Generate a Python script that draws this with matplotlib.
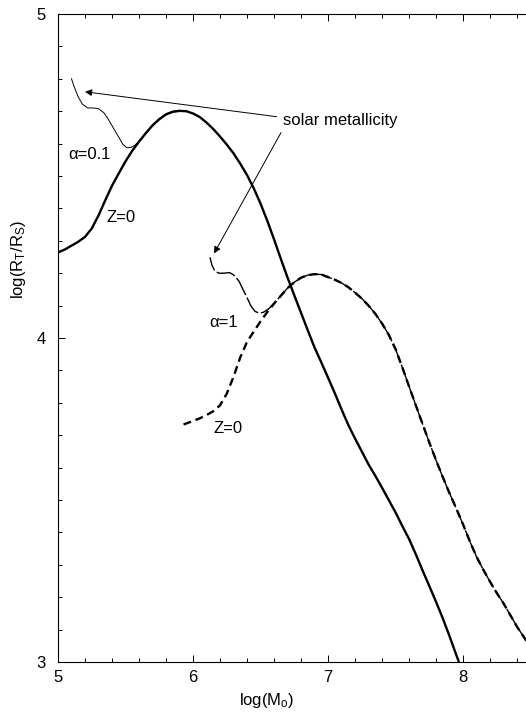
import matplotlib
matplotlib.use("Agg")
import matplotlib.pyplot as plt
from matplotlib.ticker import MultipleLocator

plt.rcParams['font.family'] = ['Liberation Sans', 'DejaVu Sans']
plt.rcParams['mathtext.fontset'] = 'custom'
plt.rcParams['mathtext.rm'] = 'Liberation Sans'
plt.rcParams['mathtext.it'] = 'Liberation Sans:italic'

# Z=0, alpha=0.1 (thick solid)
z0_a01_x = [5.00, 5.05, 5.10, 5.15, 5.20, 5.25, 5.30, 5.35, 5.40, 5.45, 5.50, 5.55,
            5.60, 5.65, 5.70, 5.75, 5.80, 5.85, 5.90, 5.95, 6.00, 6.05, 6.10, 6.15,
            6.20, 6.25, 6.30, 6.35, 6.40, 6.45, 6.50, 6.55, 6.60, 6.65, 6.70, 6.75,
            6.80, 6.85, 6.90, 6.95, 7.00, 7.05, 7.10, 7.15, 7.20, 7.25, 7.30, 7.35,
            7.40, 7.45, 7.50, 7.55, 7.60, 7.65, 7.70, 7.75, 7.80, 7.85, 7.90, 7.95, 7.97]
z0_a01_y = [4.264, 4.273, 4.285, 4.297, 4.312, 4.338, 4.378, 4.425, 4.470, 4.508, 4.545, 4.578,
            4.606, 4.632, 4.656, 4.675, 4.690, 4.698, 4.701, 4.700, 4.693, 4.682, 4.665, 4.645,
            4.622, 4.597, 4.570, 4.538, 4.503, 4.462, 4.415, 4.362, 4.305, 4.245, 4.187, 4.132,
            4.078, 4.024, 3.971, 3.925, 3.878, 3.830, 3.780, 3.732, 3.690, 3.650, 3.610, 3.575,
            3.538, 3.500, 3.462, 3.420, 3.380, 3.333, 3.283, 3.235, 3.186, 3.135, 3.080, 3.022, 3.000]

# Z=0, alpha=1 (thick dashed)
z0_a1_x = [5.93, 6.00, 6.05, 6.10, 6.15, 6.20, 6.25, 6.30, 6.35, 6.40, 6.45, 6.50,
           6.55, 6.60, 6.65, 6.70, 6.75, 6.80, 6.85, 6.90, 6.95, 7.00, 7.05, 7.10,
           7.15, 7.20, 7.25, 7.30, 7.35, 7.40, 7.45, 7.50, 7.55, 7.60, 7.65, 7.70,
           7.75, 7.80, 7.85, 7.90, 7.95, 8.00, 8.05, 8.10, 8.15, 8.20, 8.25, 8.30,
           8.35, 8.40, 8.47]
z0_a1_y = [3.733, 3.744, 3.752, 3.762, 3.774, 3.792, 3.828, 3.880, 3.940, 3.988, 4.020, 4.051,
           4.080, 4.106, 4.130, 4.154, 4.172, 4.186, 4.194, 4.197, 4.196, 4.188, 4.180, 4.170,
           4.157, 4.140, 4.122, 4.100, 4.075, 4.045, 4.010, 3.966, 3.910, 3.851, 3.793, 3.735,
           3.678, 3.623, 3.571, 3.521, 3.474, 3.425, 3.373, 3.325, 3.285, 3.248, 3.213, 3.181,
           3.145, 3.109, 3.065]

# solar metallicity, alpha=0.1 (thin solid) - merges with Z=0 near the peak
sol_a01_x = [5.10, 5.12, 5.15, 5.18, 5.22, 5.26, 5.30, 5.34, 5.37, 5.41, 5.45, 5.48,
             5.51, 5.54, 5.57, 5.61, 5.65, 5.70, 5.75, 5.80, 5.85, 5.90]
sol_a01_y = [4.800, 4.775, 4.744, 4.722, 4.710, 4.710, 4.708, 4.695, 4.677, 4.648, 4.620, 4.598,
             4.587, 4.588, 4.595, 4.612, 4.633, 4.658, 4.677, 4.692, 4.700, 4.703]

# solar metallicity, alpha=1 (thin dashed) - follows the Z=0 curve after the merge
sol_a1_x = [6.126, 6.14, 6.16, 6.19, 6.23, 6.27, 6.30, 6.34, 6.37, 6.40, 6.43, 6.46,
            6.49, 6.52, 6.56, 6.60]
sol_a1_y = [4.249, 4.225, 4.208, 4.200, 4.200, 4.202, 4.195, 4.176, 4.150, 4.125, 4.098, 4.082,
            4.077, 4.079, 4.090, 4.107]
sol_a1_x = sol_a1_x + [x for x in z0_a1_x if x > 6.62]
sol_a1_y = sol_a1_y + [y for x, y in zip(z0_a1_x, z0_a1_y) if x > 6.62]

fig = plt.figure(figsize=(5.26, 7.13), dpi=100)
ax = fig.add_axes([58 / 526, 51 / 713, 472.5 / 526, 648 / 713])

ax.plot(z0_a01_x, z0_a01_y, color='black', lw=1.7, solid_capstyle='butt')
ax.plot(sol_a01_x, sol_a01_y, color='black', lw=0.7)
ax.plot(z0_a1_x, z0_a1_y, color='black', lw=1.7, linestyle=(0, (3.4, 2.0)))
ax.plot(sol_a1_x, sol_a1_y, color='black', lw=1.0, linestyle=(4, (14, 2)))

ax.set_xlim(5, 8.5)
ax.set_ylim(3, 5)
ax.xaxis.set_major_locator(MultipleLocator(1))
ax.xaxis.set_minor_locator(MultipleLocator(0.2))
ax.yaxis.set_major_locator(MultipleLocator(1))
ax.yaxis.set_minor_locator(MultipleLocator(0.1))
ax.tick_params(which='both', direction='in', top=True, right=False, width=0.7)
ax.tick_params(which='major', length=5, labelsize=12)
ax.tick_params(which='minor', length=3)
ax.tick_params(axis='x', pad=6)
ax.tick_params(axis='y', pad=9)
for s in ax.spines.values():
    s.set_linewidth(0.8)
ax.spines['right'].set_visible(False)

fig.text(267 / 526, 1 - 700 / 713, r'log(M$_\mathregular{o}$)', ha='center', va='center', fontsize=12)
fig.text(18 / 526, 1 - 260 / 713, r'log(R$_\mathregular{T}$/R$_\mathregular{S}$)', ha='center', va='center',
         rotation=90, fontsize=12)

# labels
ax.text(5.23, 4.567, 'α=0.1', ha='center', va='center', fontsize=12)
ax.text(5.467, 4.372, 'Z=0', ha='center', va='center', fontsize=12)
ax.text(6.23, 4.048, 'α=1', ha='center', va='center', fontsize=12)
ax.text(6.263, 3.722, 'Z=0', ha='center', va='center', fontsize=12)
ax.text(6.667, 4.67, 'solar metallicity', ha='left', va='center', fontsize=12)

arrow = dict(arrowstyle='-|>', color='black', lw=0.7, mutation_scale=10, shrinkA=0, shrinkB=0)
ax.annotate('', xy=(5.2, 4.76), xytext=(6.62, 4.683), arrowprops=arrow)
ax.annotate('', xy=(6.156, 4.261), xytext=(6.652, 4.634), arrowprops=arrow)

fig.savefig('out.png', dpi=100)
